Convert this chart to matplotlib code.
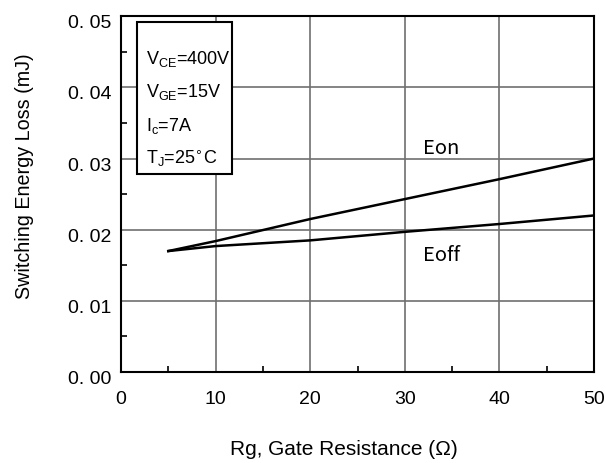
import matplotlib
matplotlib.use("Agg")
import matplotlib.pyplot as plt
import matplotlib.transforms as mtransforms
from matplotlib.patches import Rectangle
from matplotlib.ticker import MultipleLocator

plt.rcParams['font.family'] = ['Liberation Sans', 'DejaVu Sans']

# gate resistance (ohm) and switching energies (mJ)
rg = [5, 10, 20, 30, 40, 50]
eon = [0.0170, 0.0184, 0.0215, 0.0243, 0.0271, 0.0300]
eoff = [0.0170, 0.0177, 0.0185, 0.0197, 0.0208, 0.0220]

yticks = [0.00, 0.01, 0.02, 0.03, 0.04, 0.05]
ytick_labels = ['0. 00', '0. 01', '0. 02', '0. 03', '0. 04', '0. 05']
xticks = [0, 10, 20, 30, 40, 50]

conditions = [
    r'V$_{\mathregular{CE}}$=400V',
    r'V$_{\mathregular{GE}}$=15V',
    r'I$_{\mathregular{c}}$=7A',
    r'T$_{\mathregular{J}}$=25$^{\circ}$C',
]

fig = plt.figure(figsize=(6.06, 4.64), dpi=100)
ax = fig.add_axes([0.1997, 0.196, 0.7805, 0.767])

ax.plot(rg, eon, color='black', lw=1.8)
ax.plot(rg, eoff, color='black', lw=1.8)

ax.set_xlim(0, 50)
ax.set_ylim(0, 0.05)
ax.set_xticks(xticks)
ax.set_yticks(yticks)
ax.set_yticklabels(ytick_labels)
ax.xaxis.set_minor_locator(MultipleLocator(5))
ax.yaxis.set_minor_locator(MultipleLocator(0.005))
ax.tick_params(which='both', direction='in', top=False, right=False)
ax.tick_params(axis='x', which='major', length=0, pad=13, labelsize=14)
ax.tick_params(axis='y', which='major', length=0, pad=7, labelsize=14)
ax.tick_params(which='minor', length=4, width=1.2)

# y tick labels sit a little below their grid lines
shift = mtransforms.ScaledTranslation(0, -0.045, fig.dpi_scale_trans)
for lab in ax.get_yticklabels():
    lab.set_transform(lab.get_transform() + shift)

ax.grid(True, which='major', color='#707070', lw=1.2)
for s in ax.spines.values():
    s.set_linewidth(1.5)
    s.set_color('black')

ax.set_xlabel('Rg, Gate Resistance (Ω)', fontsize=15)
ax.xaxis.set_label_coords(0.472, -0.188)
ax.set_ylabel('Switching Energy Loss (mJ)', fontsize=14.2)
ax.yaxis.set_label_coords(-0.184, 0.553)

# curve names
ax.text(31.95, 0.0316, 'Eon', fontsize=14.5, va='center',
        family=['Noto Sans CJK SC', 'DejaVu Sans'])
ax.text(31.95, 0.01657, 'Eoff', fontsize=14.5, va='center',
        family=['Noto Sans CJK SC', 'DejaVu Sans'])

# test condition box
box = Rectangle((1.69, 0.0278), 10.05, 0.02136, facecolor='white',
                edgecolor='black', lw=1.5, zorder=3)
ax.add_patch(box)
for i, t in enumerate(conditions):
    ax.text(2.6, 0.0441 - i * 0.00467, t, fontsize=13, va='center', zorder=4)

fig.savefig('out.png', dpi=100)
